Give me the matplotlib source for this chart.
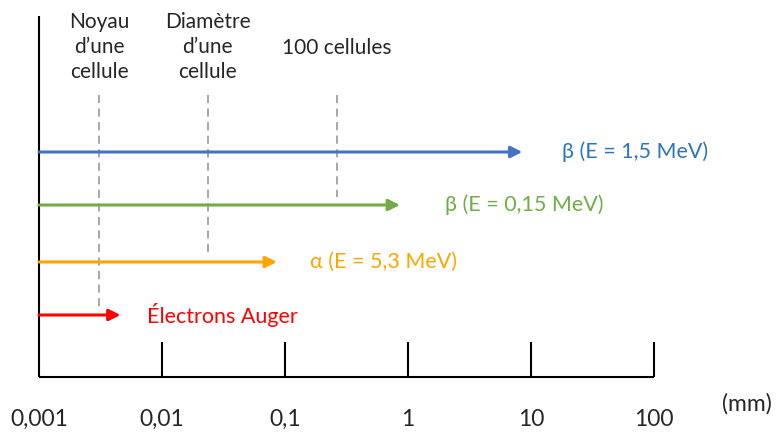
import numpy as np
import matplotlib
matplotlib.use('Agg')
import matplotlib.pyplot as plt

plt.rcParams['font.family'] = ['Lato', 'DejaVu Sans']

# parcours des rayonnements (mm)
labels = ['Électrons Auger', 'α (E = 5,3 MeV)', 'β (E = 0,15 MeV)', 'β (E = 1,5 MeV)']
ranges = [0.0046, 0.086, 0.86, 8.5]
arrow_colors = ['#FF0000', '#FFA500', '#70AD47', '#4472C4']
text_colors = ['#FF0000', '#FFA500', '#70AD47', '#2E75B6']

# echelles de reference (mm)
ref_labels = ['Noyau\nd\u2019une\ncellule', 'Diamètre\nd\u2019une\ncellule', '100 cellules']
ref_sizes = [0.0031, 0.0236, 0.265]

ticks = [0.001, 0.01, 0.1, 1, 10, 100]
tick_labels = ['0,001', '0,01', '0,1', '1', '10', '100']

W, H = 776, 436
fig = plt.figure(figsize=(W / 100, H / 100), dpi=100)
ax = fig.add_axes([0, 0, 1, 1])
ax.set_xscale('log')
dec = 123.0
x0 = 39.0
ax.set_xlim(10 ** (-3 - x0 / dec), 10 ** (2 + (W - x0 - 5 * dec) / dec))
ax.set_ylim(H, 0)
ax.axis('off')

txt = '#262626'
base_y = 377
# axes
ax.plot([ticks[0], ticks[0]], [16, base_y], color='black', lw=1.5, solid_capstyle='butt')
ax.plot([ticks[0], ticks[-1]], [base_y, base_y], color='black', lw=1.5, solid_capstyle='butt')
for t, lab in zip(ticks, tick_labels):
    if t != ticks[0]:
        ax.plot([t, t], [342, base_y], color='black', lw=1.5, solid_capstyle='butt')
    ax.text(t, 419, lab, ha='center', va='center', fontsize=16.5, color=txt)
ax.text(10 ** (2 + (747 - 654) / dec), 404, '(mm)', ha='center', va='center',
        fontsize=16.5, color=txt)

# lignes de reference
ref_bottoms = [310, 257, 197]
for s, yb in zip(ref_sizes, ref_bottoms):
    ax.plot([s, s], [95, yb], color='#A0A0A0', lw=1.3, ls=(0, (4.5, 3)))
ax.text(ref_sizes[0], 47, ref_labels[0], ha='center', va='center', fontsize=15,
        color=txt, linespacing=1.32)
ax.text(ref_sizes[1], 47, ref_labels[1], ha='center', va='center', fontsize=15,
        color=txt, linespacing=1.32)
ax.text(ref_sizes[2], 48, ref_labels[2], ha='center', va='center', fontsize=15,
        color=txt)

# fleches
arrow_y = [315, 262, 205, 152]
text_x = [147, 310, 445, 562]
for r, lab, ca, ct, y, tx in zip(ranges, labels, arrow_colors, text_colors, arrow_y, text_x):
    ax.annotate('', xy=(r, y), xytext=(ticks[0], y),
                arrowprops=dict(arrowstyle='-|>', color=ca, lw=2.2,
                                mutation_scale=17, shrinkA=0, shrinkB=0))
    ax.text(10 ** (-3 + (tx - x0) / dec), y, lab, ha='left', va='center',
            fontsize=15.5, color=ct)

fig.savefig('out.png', dpi=100)
